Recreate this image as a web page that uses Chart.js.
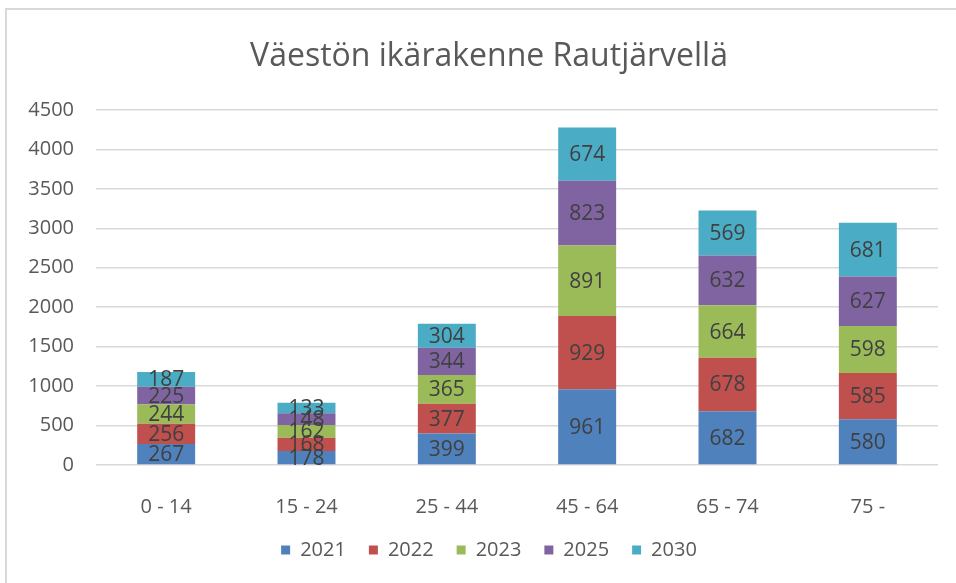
<!DOCTYPE html>
<html>
<head>
<meta charset="utf-8">
<script src="https://cdn.jsdelivr.net/npm/chart.js@4/dist/chart.umd.min.js"></script>
<style>
  html, body { margin: 0; padding: 0; background: #fff; overflow: hidden; }
  #frame { position: absolute; left: 5px; top: 8px; width: 1000px; height: 700px; border: 2px solid #d9d9d9; }
  #c { position: absolute; left: 0; top: 0; }
</style>
</head>
<body>
<div id="frame"></div>
<canvas id="c" width="956" height="583"></canvas>
<script>
// age groups
const categories = ["0 - 14", "15 - 24", "25 - 44", "45 - 64", "65 - 74", "75 -"];
const years = ["2021", "2022", "2023", "2025", "2030"];

const v2021 = [267, 178, 399, 961, 682, 580];
const v2022 = [256, 168, 377, 929, 678, 585];
const v2023 = [244, 162, 365, 891, 664, 598];
const v2025 = [225, 148, 344, 823, 632, 627];
const v2030 = [187, 133, 304, 674, 569, 681];

const colors = ["#4f81bd", "#c0504d", "#9bbb59", "#8064a2", "#4bacc6"];

const series = [v2021, v2022, v2023, v2025, v2030];

const chartTitle = "Väestön ikärakenne Rautjärvellä";

// values written inside each segment
const barLabels = {
    id: "barLabels",
    afterDatasetsDraw(chart) {
        const ctx = chart.ctx;
        ctx.save();
        ctx.font = "21px 'Open Sans'";
        ctx.fillStyle = "#404040";
        ctx.textAlign = "center";
        ctx.textBaseline = "middle";
        chart.data.datasets.forEach((ds, i) => {
            const meta = chart.getDatasetMeta(i);
            meta.data.forEach((bar, j) => {
                const mid = (bar.y + bar.base) / 2;
                ctx.fillText(String(ds.data[j]), bar.x, mid + 1);
            });
        });
        ctx.restore();
    }
};

// title centred on the whole frame, not only the canvas
const frameTitle = {
    id: "frameTitle",
    afterDraw(chart) {
        const ctx = chart.ctx;
        ctx.save();
        ctx.font = "32px 'Open Sans'";
        ctx.fillStyle = "#595959";
        ctx.textAlign = "center";
        ctx.textBaseline = "alphabetic";
        ctx.fillText(chartTitle, 489, 66);
        ctx.restore();
    }
};

new Chart(document.getElementById("c"), {
    type: "bar",
    data: {
        labels: categories,
        datasets: years.map((y, i) => ({
            label: y,
            data: series[i],
            backgroundColor: colors[i],
            borderWidth: 0,
            barPercentage: 0.413,
            categoryPercentage: 1
        }))
    },
    options: {
        responsive: false,
        animation: false,
        layout: { padding: { left: 22, right: 0, top: 110, bottom: 13 } },
        plugins: {
            title: { display: false },
            legend: {
                position: "bottom",
                labels: {
                    color: "#595959",
                    font: { family: "'Open Sans'", size: 20 },
                    boxWidth: 9,
                    boxHeight: 9,
                    padding: 23
                }
            },
            tooltip: { enabled: false }
        },
        scales: {
            x: {
                stacked: true,
                grid: { display: false },
                border: { display: false },
                ticks: {
                    color: "#595959",
                    font: { family: "'Open Sans'", size: 20, lineHeight: 1 },
                    padding: 24
                },
                afterFit(scale) { scale.height = 52; }
            },
            y: {
                stacked: true,
                min: 0,
                max: 4500,
                border: { display: false },
                grid: { color: "#d9d9d9", lineWidth: 1.5, drawTicks: false },
                ticks: {
                    stepSize: 500,
                    color: "#595959",
                    font: { family: "'Open Sans'", size: 20 },
                    padding: 22,
                    callback: (v) => String(v)
                },
                afterFit(scale) { scale.width = 74; }
            },
            // empty axis that only keeps the right margin
            yRight: {
                position: "right",
                grid: { display: false },
                border: { display: false },
                ticks: { display: false },
                afterFit(scale) { scale.width = 18; }
            }
        }
    },
    plugins: [barLabels, frameTitle]
});
</script>
</body>
</html>
